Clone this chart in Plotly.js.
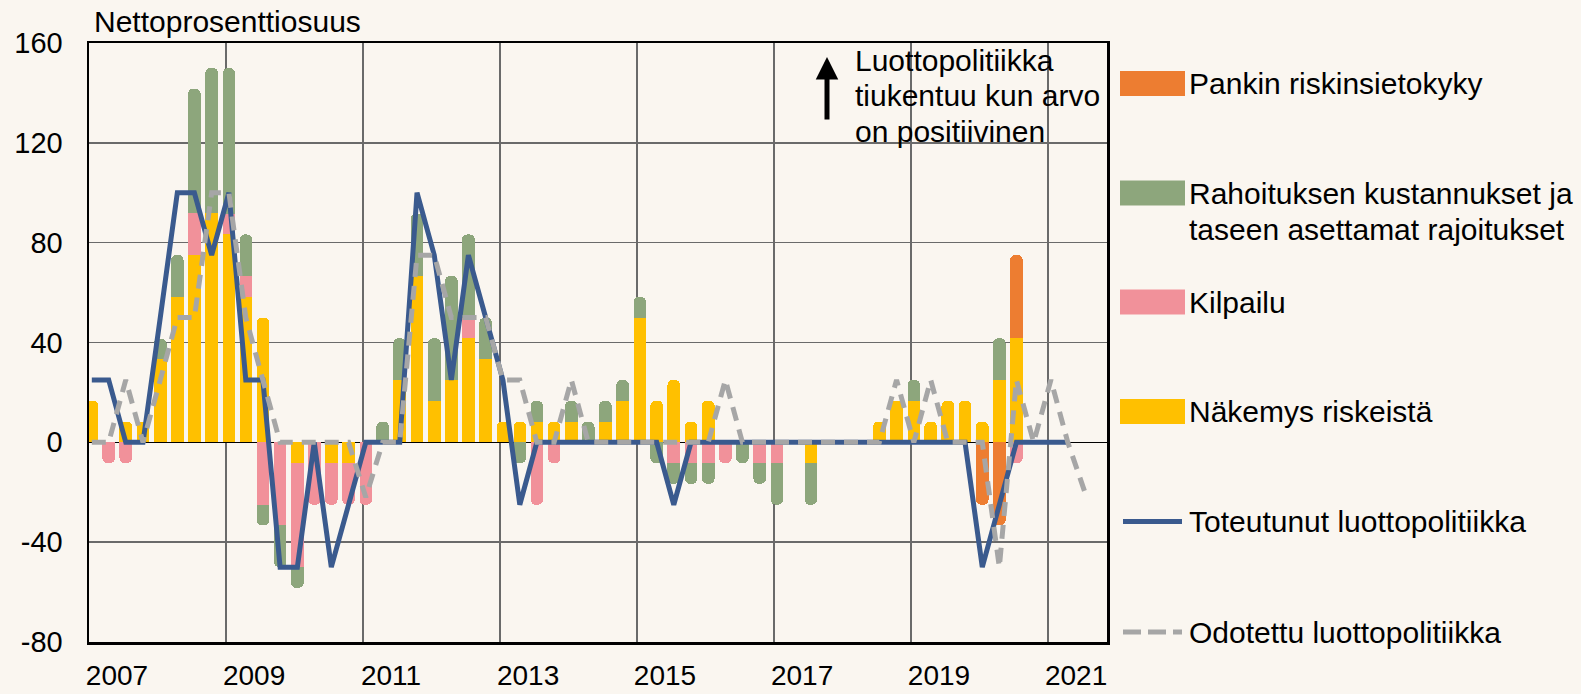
<!DOCTYPE html>
<html><head><meta charset="utf-8">
<script src="https://cdn.plot.ly/plotly-3.0.1.min.js"></script>
<style>html,body{margin:0;padding:0;background:#faf6f0;} #chart{width:1581px;height:694px;}</style>
</head><body><div id="chart"></div>
<script>
// ---- data ----
const quarters = ['2007Q1','2007Q2','2007Q3','2007Q4','2008Q1','2008Q2','2008Q3','2008Q4',
 '2009Q1','2009Q2','2009Q3','2009Q4','2010Q1','2010Q2','2010Q3','2010Q4',
 '2011Q1','2011Q2','2011Q3','2011Q4','2012Q1','2012Q2','2012Q3','2012Q4',
 '2013Q1','2013Q2','2013Q3','2013Q4','2014Q1','2014Q2','2014Q3','2014Q4',
 '2015Q1','2015Q2','2015Q3','2015Q4','2016Q1','2016Q2','2016Q3','2016Q4',
 '2017Q1','2017Q2','2017Q3','2017Q4','2018Q1','2018Q2','2018Q3','2018Q4',
 '2019Q1','2019Q2','2019Q3','2019Q4','2020Q1','2020Q2','2020Q3','2020Q4',
 '2021Q1','2021Q2','2021Q3'];

const nakemys = [16.7, 0, 8.3, 8.3, 33.3, 58.3, 75, 91.7, 83.3, 58.3,
 50, 0, -8.3, 0, -8.3, -8.3, 0, 0, 25, 66.7,
 16.7, 25, 41.7, 33.3, 8.3, 8.3, 8.3, 8.3, 8.3, 0,
 8.3, 16.7, 50, 16.7, 25, 8.3, 16.7, 0, 0, 0,
 0, 0, -8.3, 0, 0, 0, 8.3, 16.7, 16.7, 8.3,
 16.7, 16.7, 8.3, 25, 41.7];

const kilpailu = [0, -8.3, -8.3, 0, 0, 0, 16.7, 0, 8.3, 8.3,
 -25, -33.3, -41.7, -25, -16.7, -16.7, -25, 0, 0, 0,
 0, 0, 8.3, 0, 0, 0, -25, -8.3, 0, 0,
 0, 0, 0, 0, -8.3, -8.3, -8.3, -8.3, 0, -8.3,
 -8.3, 0, 0, 0, 0, 0, 0, 0, 0, 0,
 0, 0, 0, 0, -8.3];

const rahoitus = [0, 0, 0, 0, 8.3, 16.7, 50, 58.3, 58.3, 16.7,
 -8.3, -16.7, -8.3, 0, 0, 0, 0, 8.3, 16.7, 25,
 25, 41.7, 33.3, 16.7, 0, -8.3, 8.3, 0, 8.3, 8.3,
 8.3, 8.3, 8.3, -8.3, -8.3, -8.3, -8.3, 0, -8.3, -8.3,
 -16.7, 0, -16.7, 0, 0, 0, 0, 0, 8.3, 0,
 0, 0, 0, 16.7, 0];

const pankki = [0, 0, 0, 0, 0, 0, 0, 0, 0, 0,
 0, 0, 0, 0, 0, 0, 0, 0, 0, 0,
 0, 0, 0, 0, 0, 0, 0, 0, 0, 0,
 0, 0, 0, 0, 0, 0, 0, 0, 0, 0,
 0, 0, 0, 0, 0, 0, 0, 0, 0, 0,
 0, 0, -25, -33.3, 33.3];

const toteutunut = [25, 25, 0, 0, 50, 100, 100, 75, 100, 25,
 25, -50, -50, 0, -50, -25, 0, 0, 0, 100,
 75, 25, 75, 50, 25, -25, 0, 0, 0, 0,
 0, 0, 0, 0, -25, 0, 0, 0, 0, 0,
 0, 0, 0, 0, 0, 0, 0, 0, 0, 0,
 0, 0, -50, -25, 0, 0, 0, 0];

const odotettu = [0, 0, 25, 0, 25, 50, 50, 100, 100, 50,
 25, 0, 0, 0, 0, 0, -22, 0, 0, 75,
 75, 50, 50, 50, 25, 25, 0, 0, 25, 0,
 0, 0, 0, 0, 0, 0, 0, 25, 0, 0,
 0, 0, 0, 0, 0, 0, 0, 25, 0, 25,
 0, 0, 0, -50, 25, 0, 25, 0, -20];

const yearTicks = ['2007','2009','2011','2013','2015','2017','2019','2021'];
const yTickVals = [-80, -40, 0, 40, 80, 120, 160];
const yTickText = ['-80', '-40', '0', '40', '80', '120', '160'];
const seriesNames = ['Pankin riskinsietokyky', 'Rahoituksen kustannukset ja', 'taseen asettamat rajoitukset',
 'Kilpailu', 'Näkemys riskeistä', 'Toteutunut luottopolitiikka', 'Odotettu luottopolitiikka'];

// ---- helpers ----
function qDate(q){ const y=q.slice(0,4); const n=+q.slice(5); const m=String((n-1)*3+1).padStart(2,'0'); return y+'-'+m+'-16'; }
const dates = quarters.map(qDate);
const DAY = 86400000;
const barW = 67 * DAY;

const C = {orange:'#ED7D31', green:'#8DA67C', pink:'#F1919A', yellow:'#FFC000', blue:'#3A5A8E', gray:'#A6A6A6'};
const FONT = 'Liberation Sans, Arial, sans-serif';

function barTrace(vals, color, name){
  return {type:'bar', x:dates.slice(0, vals.length), y:vals, name:name, width:barW,
    marker:{color:color, line:{width:0}}, showlegend:false, hoverinfo:'x+y'};
}
const traces = [
  barTrace(nakemys, C.yellow, 'Näkemys riskeistä'),
  barTrace(kilpailu, C.pink, 'Kilpailu'),
  barTrace(rahoitus, C.green, 'Rahoituksen kustannukset ja taseen asettamat rajoitukset'),
  barTrace(pankki, C.orange, 'Pankin riskinsietokyky'),
  {type:'scatter', mode:'lines', x:dates.slice(0, toteutunut.length), y:toteutunut, name:'Toteutunut luottopolitiikka',
   line:{color:C.blue, width:5}, showlegend:false},
  {type:'scatter', mode:'lines', x:dates.slice(0, odotettu.length), y:odotettu, name:'Odotettu luottopolitiikka',
   line:{color:C.gray, width:5, dash:'14px,9px'}, showlegend:false}
];

// plot area in page pixels
const L=89, R=1107, T=43, B=642;
const px = x => (x-L)/(R-L);
const py = y => (B-y)/(B-T);

const shapes = [];
const annotations = [];
const swatches = [[83.5, C.orange],[193, C.green],[302, C.pink],[411.5, C.yellow]];
swatches.forEach(s => shapes.push({type:'rect', xref:'paper', yref:'paper', x0:px(1120), x1:px(1185),
  y0:py(s[0]+12.5), y1:py(s[0]-12.5), fillcolor:s[1], line:{width:0}}));
shapes.push({type:'line', xref:'paper', yref:'paper', x0:px(1123), x1:px(1182), y0:py(521.6), y1:py(521.6),
  line:{color:C.blue, width:5}});
shapes.push({type:'line', xref:'paper', yref:'paper', x0:px(1123), x1:px(1182), y0:py(632), y1:py(632),
  line:{color:C.gray, width:5, dash:'18px,7px'}});

const legendY = [83.5, 193, 229, 302, 411.5, 521.6, 632];
seriesNames.forEach((t,i) => annotations.push({xref:'paper', yref:'paper', x:px(1187), y:py(legendY[i]),
  xanchor:'left', yanchor:'middle', text:t, showarrow:false, font:{family:FONT, size:30, color:'#000'}}));

annotations.push({xref:'paper', yref:'paper', x:px(92), y:py(22), xanchor:'left', yanchor:'middle',
  text:'Nettoprosenttiosuus', showarrow:false, font:{family:FONT, size:30, color:'#000'}});
const noteLines = [['Luottopolitiikka',61],['tiukentuu kun arvo',96],['on positiivinen',132]];
noteLines.forEach(n => annotations.push({xref:'paper', yref:'paper', x:px(853), y:py(n[1]), xanchor:'left', yanchor:'middle',
  text:n[0], showarrow:false, font:{family:FONT, size:30, color:'#000'}}));
annotations.push({xref:'paper', yref:'paper', x:px(827), y:py(57), text:'', showarrow:true,
  ax:0, ay:64, arrowhead:2, arrowsize:0.9, arrowwidth:5, arrowcolor:'#000', standoff:0, startstandoff:0});

const gridYears = yearTicks.map(y => y+'-01-01');
const layout = {
  width:1581, height:694, autosize:false,
  margin:{l:L, r:1581-R, t:T, b:694-B, pad:0},
  paper_bgcolor:'#faf6f0', plot_bgcolor:'#faf6f0',
  barmode:'relative', bargap:0, barcornerradius:5,
  showlegend:false,
  font:{family:FONT, color:'#000'},
  xaxis:{type:'date', range:['2007-01-01','2021-11-11'], tickmode:'array', tickvals:gridYears, ticktext:yearTicks,
    ticklabelshift:28, ticklabelstandoff:7, ticks:'', tickfont:{family:FONT, size:28, color:'#000'},
    showgrid:true, gridcolor:'#6a6a6a', gridwidth:1.5,
    showline:true, mirror:true, linecolor:'#000', linewidth:2.5, zeroline:false},
  xaxis2:{type:'date', overlaying:'x', anchor:'free', position:py(442.2), range:['2007-01-01','2021-11-11'],
    tickmode:'linear', tick0:'2007-01-01', dtick:'M12', ticks:'inside', ticklen:6, tickwidth:1.5, tickcolor:'#000',
    showticklabels:false, showgrid:false, showline:false, zeroline:false},
  yaxis:{range:[-80,160], tickmode:'array', tickvals:yTickVals, ticktext:yTickText, ticks:'', ticklabelstandoff:18,
    tickfont:{family:FONT, size:29, color:'#000'}, showgrid:true, gridcolor:'#6a6a6a', gridwidth:1.5,
    showline:true, mirror:true, linecolor:'#000', linewidth:2.5,
    zeroline:true, zerolinecolor:'#000', zerolinewidth:1.5},
  shapes:shapes, annotations:annotations
};
Plotly.newPlot('chart', traces, layout, {staticPlot:true, displayModeBar:false});
</script></body></html>
